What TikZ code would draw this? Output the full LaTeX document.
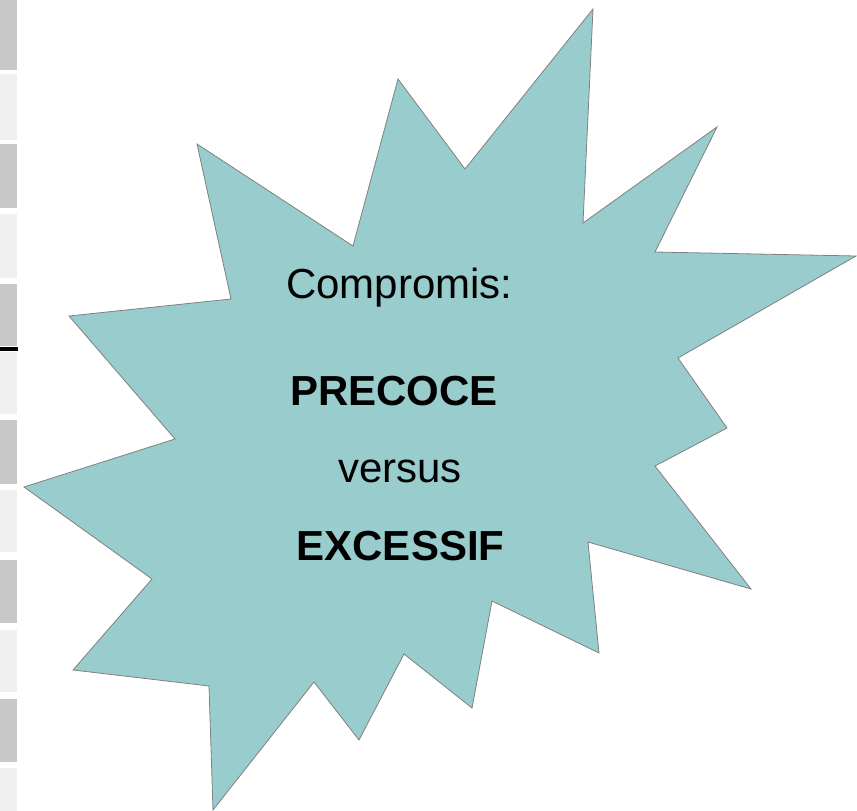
\documentclass[tikz,border=0pt]{standalone}
\usepackage{fontspec}
\setmainfont{Liberation Sans}
\definecolor{burst}{RGB}{153,204,204}
\definecolor{burstline}{RGB}{128,128,128}
\definecolor{tabdark}{RGB}{200,200,200}
\definecolor{tablight}{RGB}{240,240,240}
\begin{document}
\begin{tikzpicture}[x=1pt,y=-1pt,
  burststyle/.style={fill=burst,draw=burstline,line width=0.8pt,line join=miter},
  label/.style={anchor=base,inner sep=0pt,font=\fontsize{42}{50}\selectfont},
  boldlabel/.style={label,font=\fontsize{42}{50}\selectfont\bfseries}]
\useasboundingbox (0,0) rectangle (857,811);
% side strip of alternating tabs
\foreach \a/\b in {0/70,144/208,284/346,420/484,560/623,699/762}
  \fill[tabdark] (0,\a) rectangle (17,\b);
\foreach \a/\b in {74/140,214/278,352/414,490/552,630/692,768/811}
  \fill[tablight] (0,\a) rectangle (17,\b);
\fill[black] (0,347) rectangle (18,351);
% explosion shape
\draw[burststyle]
  (593,9) -- (583,223) -- (717,127) -- (655,252) -- (856,256)
  -- (678,358) -- (727,428) -- (655,466) -- (751,589)
  -- (588,542) -- (599,653) -- (492,601) -- (472,708)
  -- (404,654) -- (359,740) -- (314,682) -- (213,810)
  -- (209,686) -- (73,670) -- (152,579) -- (24,487)
  -- (175,439) -- (69,316) -- (231,299) -- (197,144)
  -- (353,246) -- (398,79) -- (465,169) -- cycle;
% text
\node[label] (t1) at (399.5,298) {Compromis:};
\node[boldlabel] (t2) at (394,405) {PRECOCE};
\node[label] (t3) at (400,482) {versus};
\node[boldlabel] (t4) at (400.5,560) {EXCESSIF};
\end{tikzpicture}
\end{document}
